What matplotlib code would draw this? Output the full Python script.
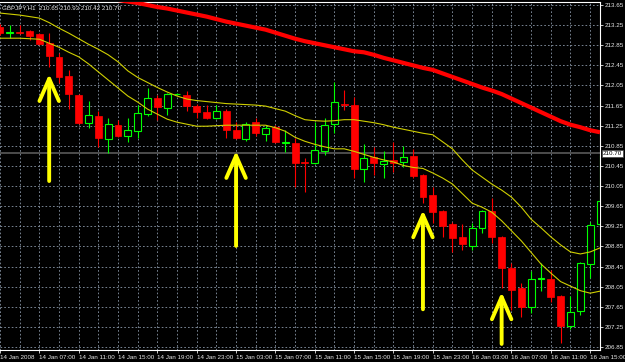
import numpy as np
import matplotlib
matplotlib.use("Agg")
import matplotlib.pyplot as plt
from matplotlib.transforms import blended_transform_factory

plt.rcParams['font.family'] = ['Liberation Sans', 'DejaVu Sans']

# GBPJPY H1, 14 Jan 03:00 .. 16 Jan 16:00
opens = [213.21, 213.09, 213.11, 213.13, 213.07, 212.89, 212.62, 212.24, 211.86, 211.30,
         211.45, 210.98, 211.26, 211.04, 211.14, 211.48, 211.80, 211.60, 211.88, 211.86,
         211.64, 211.52, 211.40, 211.55, 211.16, 210.98, 211.32, 211.08, 211.22, 210.91,
         210.91, 210.52, 210.51, 210.75, 211.28, 211.69, 211.66, 210.39, 210.63, 210.49,
         210.57, 210.53, 210.65, 210.27, 209.87, 209.55, 209.29, 209.04, 208.86, 209.22,
         209.55, 209.04, 208.42, 208.02, 207.64, 208.21, 208.20, 207.86, 207.27, 207.57,
         208.50, 209.29]
highs = [213.27, 213.25, 213.25, 213.15, 213.09, 213.09, 212.70, 212.36, 211.88, 211.74,
         211.54, 211.40, 211.36, 211.40, 211.66, 212.00, 211.86, 211.90, 211.90, 211.94,
         211.68, 211.66, 211.66, 211.58, 211.32, 211.32, 211.40, 211.26, 211.26, 211.16,
         211.00, 210.61, 211.32, 211.40, 212.12, 211.96, 211.82, 210.89, 210.83, 210.75,
         210.93, 210.85, 210.79, 210.29, 210.03, 209.57, 209.33, 209.29, 209.31, 209.57,
         209.81, 209.06, 208.52, 208.12, 208.36, 208.52, 208.38, 207.88, 207.86, 208.54,
         209.33, 210.67]
lows = [213.05, 212.99, 213.07, 212.95, 212.85, 212.42, 212.10, 211.58, 211.28, 211.20,
        210.83, 210.71, 211.02, 210.93, 211.00, 211.44, 211.36, 211.46, 211.86, 211.54,
        211.40, 211.38, 211.38, 211.00, 210.98, 210.95, 211.04, 210.95, 210.91, 210.73,
        210.03, 209.93, 210.49, 210.67, 211.10, 211.56, 210.21, 210.13, 210.27, 210.21,
        210.33, 210.43, 210.21, 209.71, 209.31, 209.04, 208.74, 208.78, 208.78, 209.12,
        208.92, 208.02, 207.58, 207.45, 207.53, 207.96, 207.74, 206.93, 207.21, 207.49,
        208.22, 209.25]
closes = [213.09, 213.12, 213.09, 213.04, 212.87, 212.64, 212.22, 211.88, 211.30, 211.46,
          211.00, 211.28, 211.04, 211.16, 211.50, 211.80, 211.62, 211.88, 211.89, 211.64,
          211.52, 211.40, 211.54, 211.16, 211.00, 211.28, 211.10, 211.20, 210.93, 210.92,
          210.51, 210.50, 210.77, 211.26, 211.72, 211.66, 210.39, 210.61, 210.51, 210.55,
          210.51, 210.63, 210.25, 209.83, 209.53, 209.25, 209.02, 208.90, 209.22, 209.55,
          209.04, 208.42, 207.98, 207.64, 208.20, 208.23, 207.84, 207.27, 207.55, 208.52,
          209.27, 209.75]

# slow moving average (thick red)
ma_slow = [214.21, 214.17, 214.13, 214.09, 214.07, 214.03, 213.99, 213.95, 213.91, 213.87,
           213.83, 213.79, 213.75, 213.72, 213.69, 213.65, 213.61, 213.58, 213.54, 213.50,
           213.46, 213.42, 213.37, 213.32, 213.28, 213.24, 213.20, 213.16, 213.10, 213.04,
           212.98, 212.93, 212.89, 212.85, 212.81, 212.77, 212.73, 212.71, 212.66, 212.60,
           212.55, 212.50, 212.45, 212.40, 212.36, 212.29, 212.22, 212.15, 212.08, 212.01,
           211.95, 211.88, 211.79, 211.70, 211.61, 211.52, 211.43, 211.34, 211.27, 211.22,
           211.16, 211.12]

# channel (thin yellow)
ma_upper = [213.49, 213.47, 213.45, 213.42, 213.39, 213.30, 213.19, 213.09, 212.98, 212.87,
            212.77, 212.66, 212.52, 212.34, 212.21, 212.11, 212.01, 211.92, 211.84, 211.78,
            211.75, 211.73, 211.71, 211.69, 211.68, 211.67, 211.66, 211.64, 211.59, 211.54,
            211.45, 211.37, 211.35, 211.34, 211.35, 211.37, 211.37, 211.34, 211.31, 211.27,
            211.22, 211.18, 211.14, 211.10, 211.07, 210.93, 210.79, 210.57, 210.37, 210.23,
            210.09, 209.97, 209.83, 209.63, 209.39, 209.22, 209.04, 208.88, 208.74, 208.70,
            208.74, 208.82]
ma_lower = [212.99, 212.99, 212.99, 212.98, 212.97, 212.89, 212.81, 212.71, 212.62, 212.48,
            212.32, 212.16, 212.00, 211.84, 211.72, 211.58, 211.48, 211.38, 211.32, 211.28,
            211.24, 211.24, 211.25, 211.26, 211.26, 211.26, 211.26, 211.26, 211.21, 211.14,
            211.02, 210.94, 210.88, 210.83, 210.79, 210.79, 210.74, 210.68, 210.62, 210.57,
            210.53, 210.46, 210.42, 210.40, 210.31, 210.21, 210.09, 209.90, 209.71, 209.63,
            209.53, 209.36, 209.16, 208.96, 208.73, 208.50, 208.32, 208.15, 208.06, 207.97,
            207.92, 207.96]

bid = 210.70
price_ticks = [206.85 + 0.4 * k for k in range(18)]
time_labels = ['14 Jan 2008', '14 Jan 07:00', '14 Jan 11:00', '14 Jan 15:00', '14 Jan 19:00',
               '14 Jan 23:00', '15 Jan 03:00', '15 Jan 07:00', '15 Jan 11:00', '15 Jan 15:00',
               '15 Jan 19:00', '15 Jan 23:00', '16 Jan 03:00', '16 Jan 07:00', '16 Jan 11:00',
               '16 Jan 15:00']
# (bar, from price, to price)
arrows = [(5, 210.15, 212.28), (24, 208.86, 210.75), (43, 207.60, 209.57), (51, 206.91, 207.94)]

fg = '#E8E8E8'
fs = 4.5
fig = plt.figure(figsize=(6.25, 3.62), dpi=100, facecolor='black')
ax = fig.add_axes([0, 12 / 362, 600 / 625, 348 / 362], facecolor='black')

x = np.arange(len(opens))
o = np.array(opens); c = np.array(closes)
up = c >= o
w = 0.70

# wicks
ax.vlines(x[up], np.array(lows)[up], np.array(highs)[up], color='#00FF00', lw=0.8, zorder=3)
ax.vlines(x[~up], np.array(lows)[~up], np.array(highs)[~up], color='#FF0000', lw=0.8, zorder=3)
# bodies
body = np.maximum(np.abs(c - o), 0.005)
ax.bar(x[up], body[up], bottom=np.minimum(o, c)[up], width=w,
       facecolor='black', edgecolor='#00FF00', lw=0.8, zorder=4)
ax.bar(x[~up], body[~up], bottom=np.minimum(o, c)[~up], width=w,
       facecolor='#FF0000', edgecolor='#FF0000', lw=0.5, zorder=4)

ax.axhline(bid, color='#5A5A5A', lw=1.2, zorder=2)
ax.plot(x, ma_slow, color='#FF0000', lw=3.0, zorder=5, solid_capstyle='butt')
ax.plot(x, ma_upper, color='#CFCF00', lw=0.8, zorder=5)
ax.plot(x, ma_lower, color='#CFCF00', lw=0.8, zorder=5)

for bx, y0, y1 in arrows:
    ax.annotate('', xy=(bx, y1), xytext=(bx, y0),
                arrowprops=dict(arrowstyle='->,head_length=1.6,head_width=0.7',
                                color='#FFFF00', lw=2.8, shrinkA=0, shrinkB=0),
                zorder=6)

ax.set_xlim(0, 61.0)
ax.set_ylim(206.79, 213.71)

ax.yaxis.tick_right()
ax.set_yticks(price_ticks)
ax.set_yticklabels(['%.2f' % p for p in price_ticks])
ax.set_xticks(np.arange(0, 61, 4))
ax.set_xticklabels(time_labels, ha='left')
ax.set_xticks(np.arange(0, 62, 2), minor=True)
ax.tick_params(axis='both', which='major', colors=fg, labelsize=fs, length=2.5, width=0.6, pad=1.0)
ax.tick_params(axis='x', which='minor', length=0)
ax.grid(True, which='both', color='#8A97A8', lw=0.6, linestyle=(0, (2, 2.5)), zorder=1)

for s in ['top', 'right', 'bottom']:
    ax.spines[s].set_color('white')
    ax.spines[s].set_linewidth(0.8)
ax.spines['left'].set_visible(False)

ax.text(0.004, 0.992, 'GBPJPY,H1  210.65 210.93 210.42 210.70', transform=ax.transAxes,
        color=fg, fontsize=fs, va='top', ha='left', zorder=7)

tr = blended_transform_factory(ax.transAxes, ax.transData)
ax.text(1.005, bid, '210.70', transform=tr, color='black', fontsize=fs, va='center', ha='left',
        bbox=dict(boxstyle='square,pad=0.12', facecolor='white', edgecolor='#404040', lw=0.5),
        clip_on=False, zorder=8)

fig.savefig('out.png', dpi=100, facecolor='black')
